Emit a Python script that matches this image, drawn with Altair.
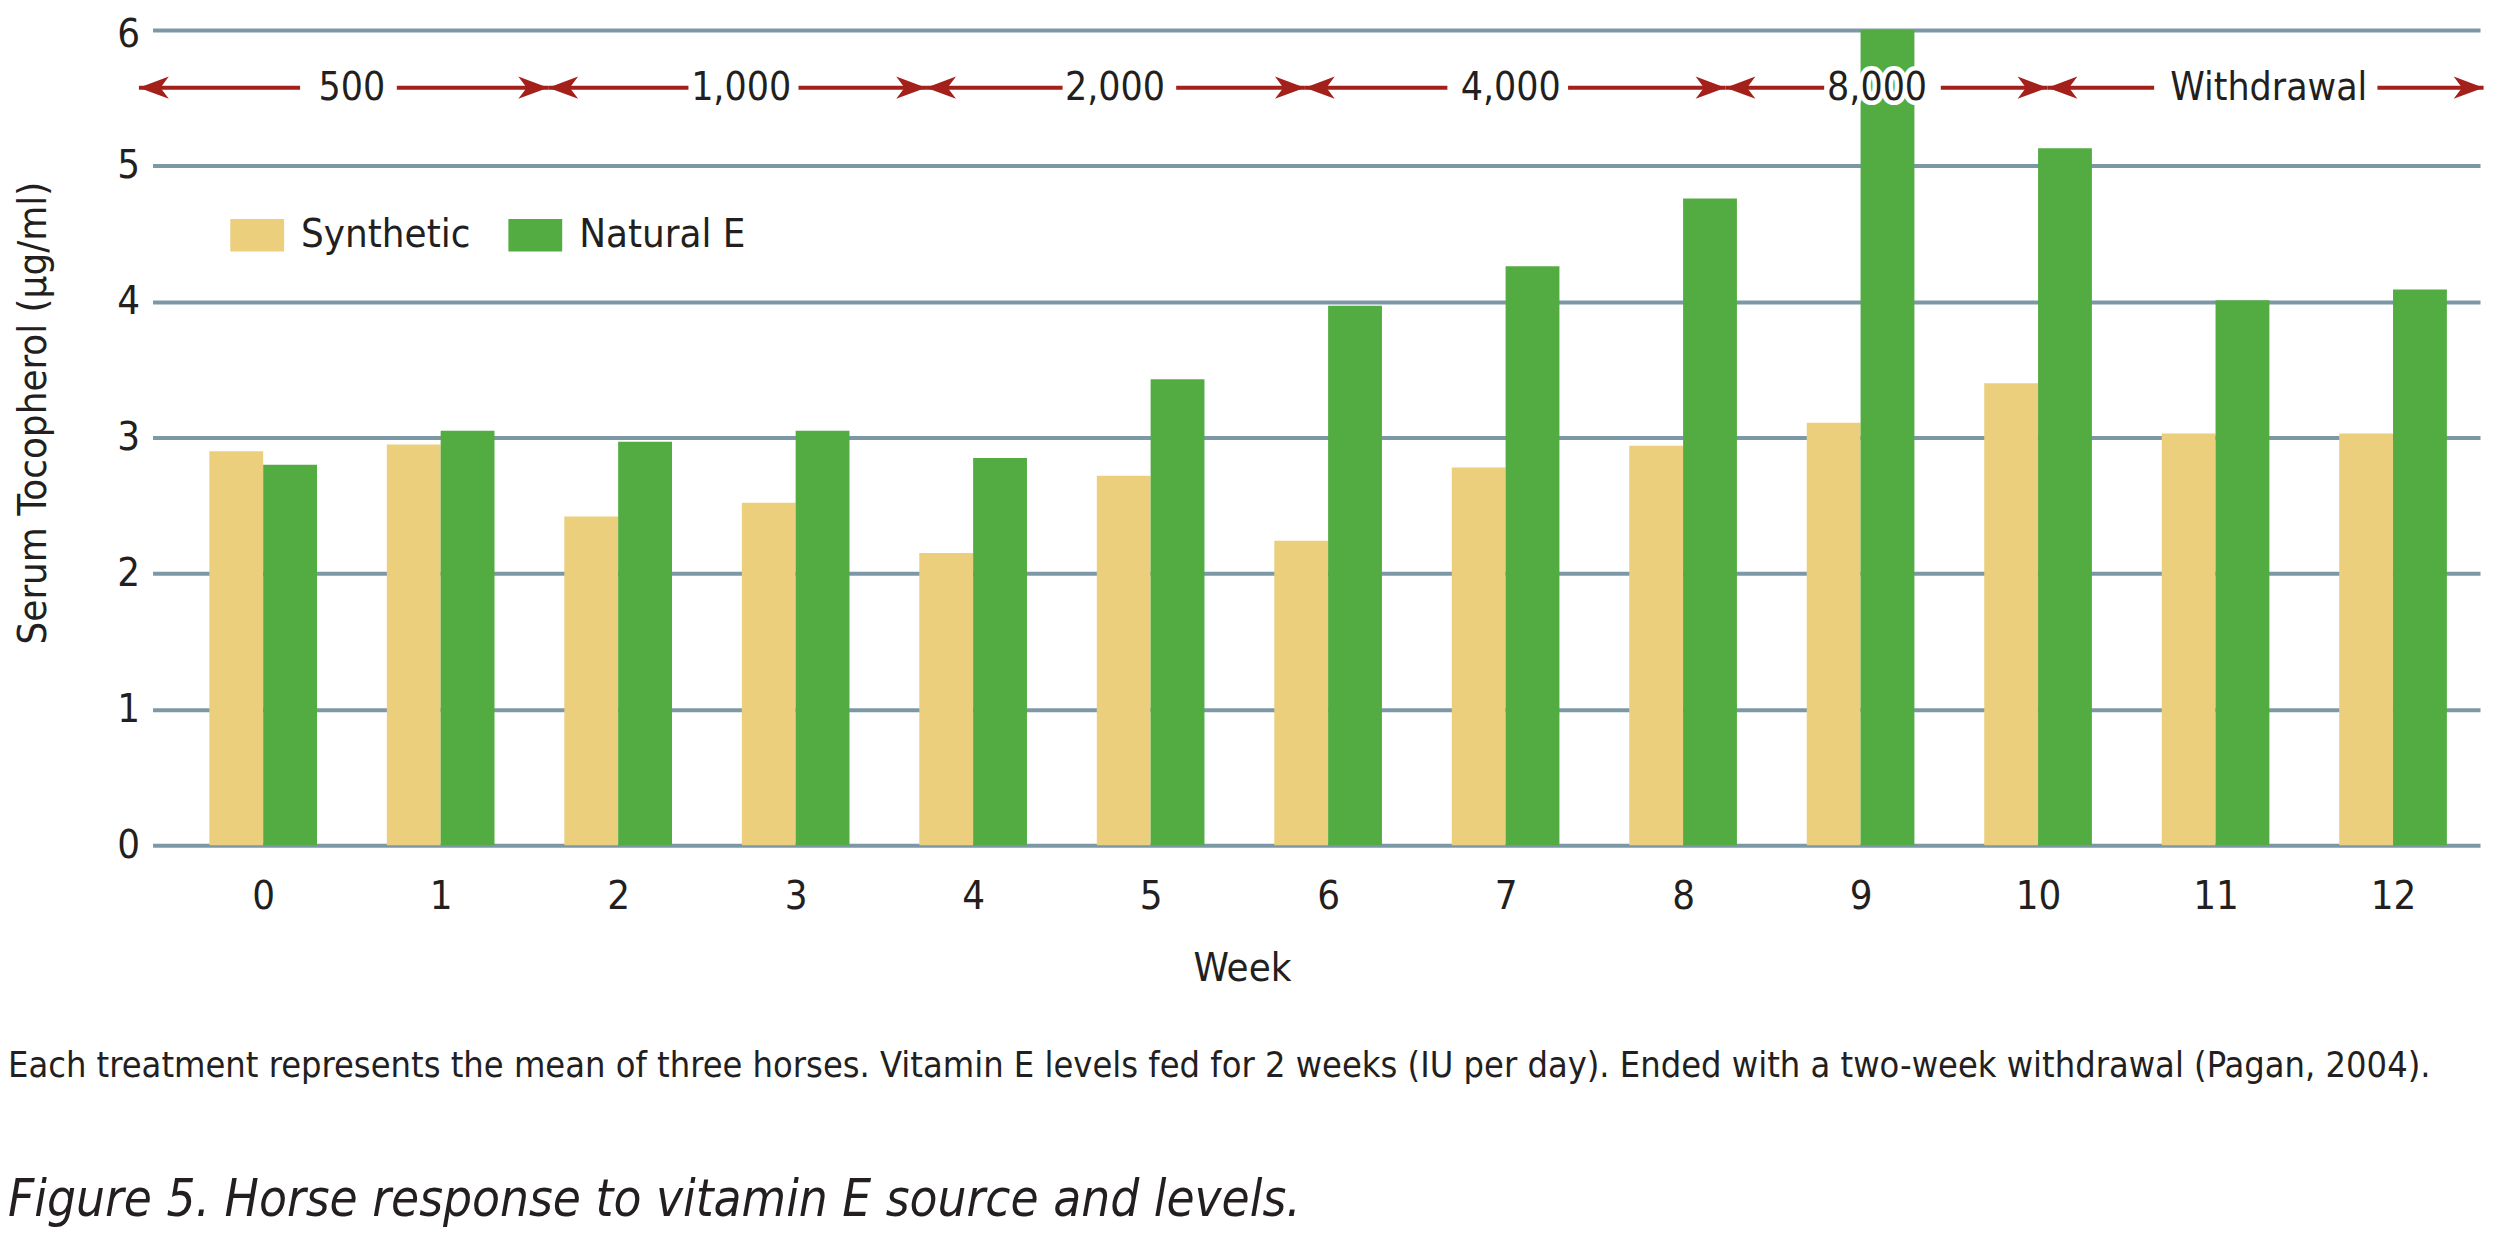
import altair as alt
import pandas as pd

# ---------------- data ----------------
weeks = list(range(13))
synthetic = [2.90, 2.95, 2.42, 2.52, 2.15, 2.72, 2.24, 2.78, 2.94, 3.11, 3.40, 3.03, 3.03]
natural_e = [2.80, 3.05, 2.97, 3.05, 2.85, 3.43, 3.97, 4.26, 4.76, 6.00, 5.13, 4.01, 4.09]
series_names = ["Synthetic", "Natural E"]
series_colors = ["#EBCF7C", "#52AC42"]
y_ticks = [0, 1, 2, 3, 4, 5, 6]

# dose periods (IU per day), positions in week units
dose_labels = ["500", "1,000", "2,000", "4,000", "8,000", "Withdrawal"]
dose_start = [-0.70, 1.606, 3.735, 5.869, 8.239, 10.053]
dose_end = [1.606, 3.735, 5.869, 8.239, 10.053, 12.51]
dose_label_pos = [0.50, 2.693, 4.799, 7.029, 9.093, 11.30]
dose_gap_start = [0.208, 2.396, 4.504, 6.672, 8.795, 10.654]
dose_gap_end = [0.753, 3.016, 5.144, 7.352, 9.452, 11.912]
dose_level = 5.575

caption = ("Each treatment represents the mean of three horses. Vitamin E levels fed for 2 weeks "
           "(IU per day). Ended with a two-week withdrawal (Pagan, 2004).")
fig_title = "Figure 5. Horse response to vitamin E source and levels."

# ---------------- styling ----------------
FONT = "'DejaVu Sans Condensed', 'Liberation Sans Narrow', 'Roboto', sans-serif"
TXT = "#231F20"
RED = "#A4201A"
GRID = "#7C98A7"
BAR_W = 0.3033
FS = 40

# ---------------- tables ----------------
bars_df = pd.DataFrame({
    "week": weeks * 2,
    "series": [series_names[0]] * len(weeks) + [series_names[1]] * len(weeks),
    "value": synthetic + natural_e,
})

seg_rows = []
for s, gs, ge, e in zip(dose_start, dose_gap_start, dose_gap_end, dose_end):
    seg_rows.append({"a": s, "b": gs})
    seg_rows.append({"a": ge, "b": e})
seg_df = pd.DataFrame(seg_rows)

arrow_rows = []
for s, e in zip(dose_start, dose_end):
    arrow_rows.append({"pos": s, "dir": "L"})
    arrow_rows.append({"pos": e, "dir": "R"})
arrow_df = pd.DataFrame(arrow_rows)

label_df = pd.DataFrame({"label": dose_labels, "pos": dose_label_pos})

ARROW_R = "M0,0L-1,-0.37L-0.72,0L-1,0.37Z"
ARROW_L = "M0,0L1,-0.37L0.72,0L1,0.37Z"

x_scale = alt.Scale(domain=[-0.6234, 12.49], nice=False, zero=False)
y_scale = alt.Scale(domain=[0, 6], nice=False)

bars = alt.Chart(bars_df).transform_calculate(
    x0=f"datum.week + (datum.series === '{series_names[0]}' ? -{BAR_W} : 0)"
).transform_calculate(
    x1=f"datum.x0 + {BAR_W}"
).mark_bar().encode(
    x=alt.X("x0:Q", scale=x_scale,
            axis=alt.Axis(values=weeks, format="d", title="Week", grid=False, domain=False,
                          ticks=False, labelFontSize=FS, labelColor=TXT, labelPadding=31,
                          labelFlush=False, labelOverlap=False,
                          titleFontSize=FS, titleFontWeight="normal", titleColor=TXT,
                          titleX=1093, titleY=104, titleBaseline="top", titleAlign="center")),
    x2="x1:Q",
    y=alt.Y("value:Q", scale=y_scale,
            axis=alt.Axis(values=y_ticks, format="d", title="Serum Tocopherol (µg/ml)", grid=True,
                          gridColor=GRID, gridWidth=4, gridOpacity=1, domain=False, ticks=False,
                          labelFontSize=FS, labelColor=TXT, labelPadding=13,
                          labelFlush=False, labelOverlap=False,
                          labelOffset=alt.condition("datum.value === 6", alt.value(5), alt.value(0)),
                          titleFontSize=FS, titleFontWeight="normal", titleColor=TXT,
                          titleAngle=270, titleX=-107, titleY=384,
                          titleAlign="center", titleBaseline="alphabetic")),
    y2=alt.datum(0),
    color=alt.Color("series:N", scale=alt.Scale(domain=series_names, range=series_colors),
                    sort=series_names,
                    legend=alt.Legend(title=None, orient="none", legendX=78, legendY=179,
                                      direction="horizontal", columns=2,
                                      symbolType="M-1,-0.6H1V0.6H-1Z", symbolSize=2916,
                                      symbolStrokeWidth=0, symbolOpacity=1,
                                      labelFontSize=FS, labelColor=TXT, labelOffset=17,
                                      labelLimit=0, columnPadding=38, padding=0)),
)

segs = alt.Chart(seg_df).mark_rule(color=RED, strokeWidth=4).encode(
    x=alt.X("a:Q", scale=x_scale),
    x2="b:Q",
    y=alt.datum(dose_level),
)

arrows = alt.Chart(arrow_df).mark_point(filled=True, size=3600, color=RED, opacity=1,
                                        strokeWidth=0).encode(
    x=alt.X("pos:Q", scale=x_scale),
    y=alt.datum(dose_level),
    shape=alt.Shape("dir:N", scale=alt.Scale(domain=["L", "R"], range=[ARROW_L, ARROW_R]),
                    legend=None),
)

halo = alt.Chart(label_df).mark_text(fontSize=39, color="white", stroke="white", strokeWidth=9,
                                     strokeJoin="round", baseline="middle").encode(
    x=alt.X("pos:Q", scale=x_scale),
    y=alt.datum(dose_level),
    text="label:N",
)
labels = alt.Chart(label_df).mark_text(fontSize=39, color=TXT, baseline="middle").encode(
    x=alt.X("pos:Q", scale=x_scale),
    y=alt.datum(dose_level),
    text="label:N",
)

chart = alt.layer(bars, segs, arrows, halo, labels).properties(
    width=2335,
    height=818,
    autosize=alt.AutoSizeParams(type="none"),
    padding={"left": 145, "top": 20, "right": 5, "bottom": 384},
    title=alt.TitleParams(
        text=caption, subtitle=fig_title, orient="bottom", anchor="start", frame="group",
        dx=-145, offset=60, fontSize=36, fontWeight="normal", color=TXT, font=FONT,
        subtitleFontSize=51, subtitleFontStyle="italic", subtitleColor=TXT,
        subtitleFont=FONT, subtitlePadding=92,
    ),
).configure(font=FONT).configure_view(stroke=None)

chart.save("out.html", embed_options={"renderer": "svg", "actions": False})
